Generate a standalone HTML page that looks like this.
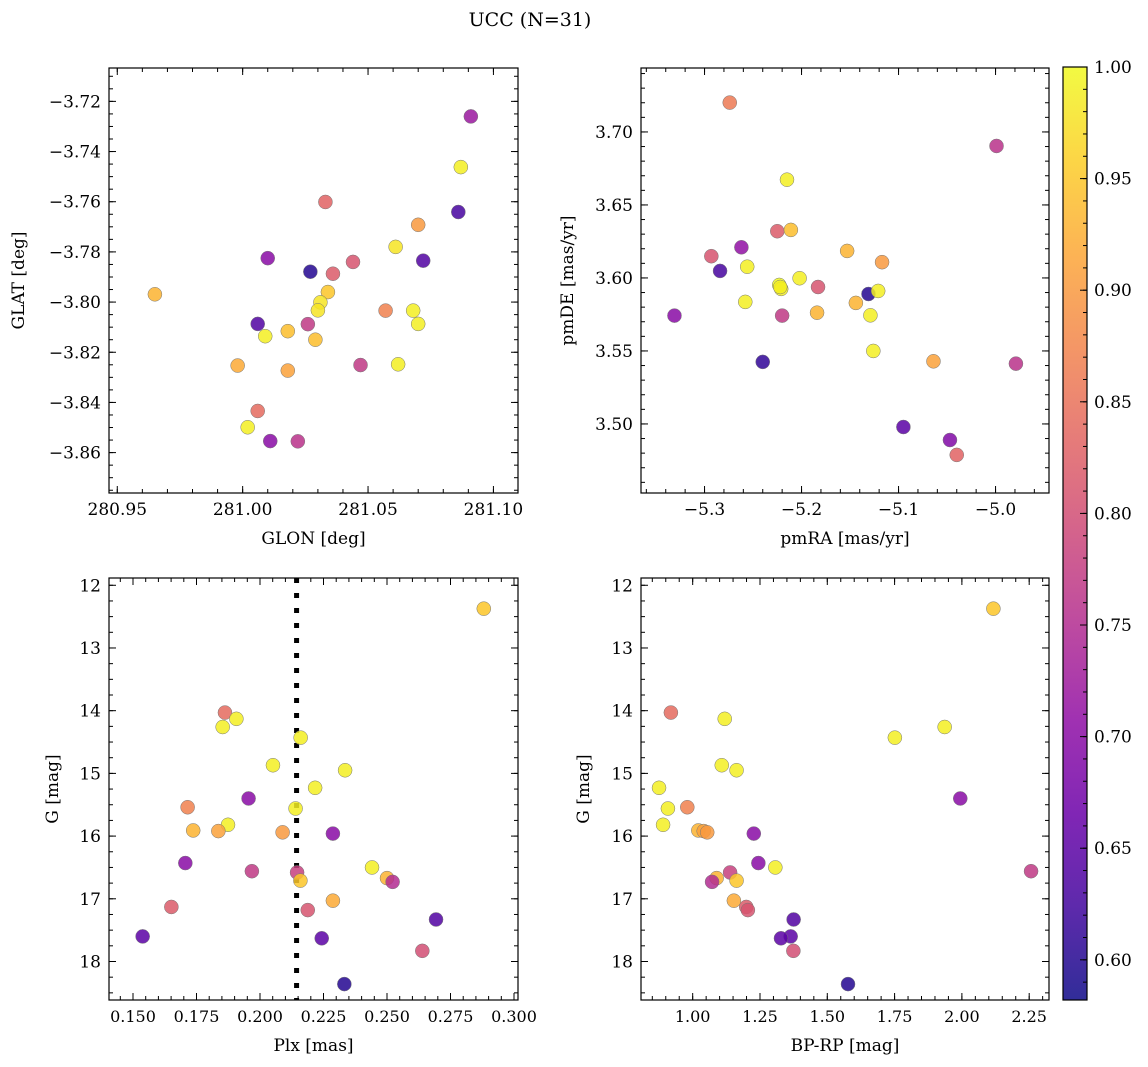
<!DOCTYPE html>
<html><head><meta charset="utf-8"><style>
body{margin:0;background:#fff;}
svg{display:block;font-family:"DejaVu Serif","Liberation Serif",serif;}
</style></head><body>
<svg id="fig" width="1148" height="1067" viewBox="0 0 1148 1067" xmlns="http://www.w3.org/2000/svg">
<defs><linearGradient id="cbg" x1="0" y1="1" x2="0" y2="0"></linearGradient></defs>
<text x="530" y="26" font-size="19" text-anchor="middle">UCC (N=31)</text>
</svg>
<script>
// Panel 1: GLON / GLAT
const glon = [281.091,281.087,281.033,281.086,281.070,281.061,281.010,281.072,281.027,281.044,281.036,280.965,281.034,281.031,281.030,281.057,281.068,281.070,281.006,281.026,281.018,281.009,281.029,280.998,281.018,281.047,281.062,281.006,281.002,281.011,281.022];
const glat = [-3.7260,-3.7462,-3.7601,-3.7641,-3.7692,-3.7780,-3.7825,-3.7835,-3.7879,-3.7840,-3.7887,-3.7969,-3.7960,-3.8001,-3.8033,-3.8034,-3.8034,-3.8087,-3.8087,-3.8088,-3.8116,-3.8136,-3.8150,-3.8253,-3.8273,-3.8251,-3.8248,-3.8434,-3.8499,-3.8554,-3.8555];
const probA = [0.72,0.99,0.83,0.63,0.90,0.98,0.70,0.64,0.60,0.81,0.82,0.93,0.95,0.98,0.98,0.87,0.99,0.99,0.64,0.77,0.94,0.99,0.94,0.92,0.91,0.77,0.99,0.84,0.99,0.70,0.76];
// Panel 2: pmRA / pmDE
const pmra = [-5.274,-4.999,-5.215,-5.225,-5.211,-5.262,-5.293,-5.153,-5.117,-5.284,-5.256,-5.202,-5.223,-5.221,-5.222,-5.183,-5.131,-5.121,-5.258,-5.144,-5.331,-5.220,-5.184,-5.129,-5.126,-5.240,-5.064,-4.979,-5.095,-5.047,-5.040];
const pmde = [3.7201,3.6904,3.6673,3.6320,3.6329,3.6210,3.6149,3.6185,3.6108,3.6048,3.6077,3.5998,3.5952,3.5925,3.5938,3.5938,3.5890,3.5911,3.5836,3.5829,3.5742,3.5742,3.5762,3.5744,3.5500,3.5425,3.5429,3.5413,3.4979,3.4890,3.4788];
const probB = [0.86,0.76,0.99,0.82,0.94,0.71,0.81,0.93,0.90,0.63,0.99,0.99,1.00,0.99,0.99,0.81,0.60,0.99,0.99,0.93,0.70,0.77,0.93,0.99,0.99,0.61,0.91,0.76,0.65,0.69,0.83];
// Panels 3 & 4: Plx, BP-RP vs G
const plx = [0.2881,0.1862,0.1907,0.1853,0.2160,0.2051,0.2335,0.2217,0.1955,0.1715,0.2140,0.1874,0.1737,0.1836,0.2089,0.2287,0.1706,0.1968,0.2146,0.2159,0.2441,0.2500,0.2522,0.1651,0.2188,0.2287,0.2693,0.1538,0.2243,0.2639,0.2332];
const bprp = [2.117,0.919,1.119,1.936,1.751,1.108,1.163,0.875,1.994,0.980,0.908,0.890,1.021,1.041,1.054,1.227,1.244,2.257,1.139,1.163,1.307,1.089,1.072,1.199,1.205,1.153,1.375,1.364,1.328,1.374,1.577];
const gmag = [12.373,14.03,14.13,14.26,14.43,14.87,14.95,15.23,15.40,15.54,15.56,15.82,15.91,15.92,15.94,15.96,16.43,16.56,16.58,16.71,16.50,16.67,16.73,17.13,17.18,17.03,17.33,17.60,17.63,17.83,18.36];
const probC = [0.95,0.84,0.99,0.99,0.99,0.99,0.99,0.99,0.70,0.87,0.99,0.99,0.93,0.91,0.90,0.70,0.70,0.77,0.78,0.95,0.99,0.93,0.75,0.82,0.81,0.92,0.64,0.65,0.65,0.80,0.60];
const plxRef = [0.2144];
const cbTicks = [0.60,0.65,0.70,0.75,0.80,0.85,0.90,0.95,1.00];

const NS='http://www.w3.org/2000/svg';
const svg=document.getElementById('fig');
function mk(tag,attrs,parent){const e=document.createElementNS(NS,tag);for(const k in attrs)e.setAttribute(k,attrs[k]);(parent||svg).appendChild(e);return e;}
const plasma=[[13,8,135],[65,4,157],[106,0,168],[143,13,164],[177,42,144],[204,71,120],[225,100,98],[242,132,75],[252,166,54],[252,206,37],[240,249,33]];
function cmap(t){t=Math.max(0,Math.min(1,t));const f=t*10,i=Math.min(9,Math.floor(f)),r=f-i;const a=plasma[i],b=plasma[i+1];return 'rgb('+a.map((v,k)=>Math.round(v+(b[k]-v)*r)).join(',')+')';}
const cmin=0.582,cmax=1.0;
function pc(p){return cmap((p-cmin)/(cmax-cmin));}

function panel(o){
  const g=mk('g',{});
  
  
  const sx=v=>o.x0+(v-o.xr[0])/(o.xr[1]-o.xr[0])*(o.x1-o.x0);
  const sy=v=>o.y1-(v-o.yr[0])/(o.yr[1]-o.yr[0])*(o.y1-o.y0);
  const tg=mk('g',{stroke:'#000','stroke-width':1},g);
  const eps=1e-9;
  function ticksX(step,len,labels){
    const s=Math.ceil((o.xr[0]-eps)/step),e=Math.floor((o.xr[1]+eps)/step);
    for(let i=s;i<=e;i++){const v=i*step,x=sx(v);
      mk('line',{x1:x,x2:x,y1:o.y1,y2:o.y1-len},tg);mk('line',{x1:x,x2:x,y1:o.y0,y2:o.y0+len},tg);
      if(labels){const t=mk('text',{x:x,y:o.y1+22,'font-size':o.fsx||17,'text-anchor':'middle',stroke:'none',fill:'#000'},g);
        t.textContent=o.fmtX(v);
        
        }}
  }
  function ticksY(step,len,labels){
    const s=Math.ceil((o.yr[0]-eps)/step),e=Math.floor((o.yr[1]+eps)/step);
    for(let i=s;i<=e;i++){const v=i*step,y=sy(v);
      mk('line',{x1:o.x0,x2:o.x0+len,y1:y,y2:y},tg);mk('line',{x1:o.x1,x2:o.x1-len,y1:y,y2:y},tg);
      if(labels){const t=mk('text',{x:o.x0-8,y:y+6,'font-size':17,'text-anchor':'end',stroke:'none',fill:'#000'},g);
        t.textContent=o.fmtY(v);
        
        }}
  }
  ticksX(o.xmin,4,false);ticksX(o.xmaj,7,true);
  ticksY(o.ymin,4,false);ticksY(o.ymaj,7,true);
  if(o.vline!==undefined){const l=mk('line',{x1:sx(o.vline),x2:sx(o.vline),y1:o.y0,y2:o.y1,stroke:'#000','stroke-width':5,'stroke-dasharray':'5 10'},g);
    
    }
  for(let i=0;i<o.xs.length;i++){
    const c=mk('circle',{cx:sx(o.xs[i]),cy:sy(o.ys[i]),r:7,fill:pc(o.ps[i]),'fill-opacity':0.85,stroke:'#777','stroke-width':0.5},g);
    
    
  }
  mk('rect',{x:o.x0,y:o.y0,width:o.x1-o.x0,height:o.y1-o.y0,fill:'none',stroke:'#000','stroke-width':1.2},g);
  const xl=mk('text',{x:(o.x0+o.x1)/2,y:o.y1+51,'font-size':17,'text-anchor':'middle'},g);
  xl.textContent=o.xlab;
  
  
  const yl=mk('text',{x:o.ylx,y:(o.y0+o.y1)/2,'font-size':17,'text-anchor':'middle',transform:'rotate(-90 '+o.ylx+' '+((o.y0+o.y1)/2)+')'},g);
  yl.textContent=o.ylab;
  
  
}
const m='\u2212';
panel({name:'glon-glat-panel',x0:109,x1:518,y0:68,y1:493,xr:[280.9467,281.1098],yr:[-3.8761,-3.7067],xs:glon,ys:glat,ps:probA,
  xmaj:0.05,xmin:0.01,ymaj:0.02,ymin:0.005,fmtX:v=>v.toFixed(2),fmtY:v=>m+Math.abs(v).toFixed(2),xlab:'GLON [deg]',ylab:'GLAT [deg]',ylx:24});
panel({name:'proper-motion-panel',x0:641,x1:1049,y0:68,y1:493,xr:[-5.3655,-4.9449],yr:[3.4527,3.7438],xs:pmra,ys:pmde,ps:probB,
  xmaj:0.1,xmin:0.02,ymaj:0.05,ymin:0.01,fmtX:v=>m+Math.abs(v).toFixed(1),fmtY:v=>v.toFixed(2),xlab:'pmRA [mas/yr]',ylab:'pmDE [mas/yr]',ylx:573});
panel({name:'plx-g-panel',x0:109,x1:518,y0:578,y1:1000,xr:[0.14055,0.30157],yr:[-18.614,-11.884],xs:plx,ys:gmag.map(v=>-v),ps:probC,
  xmaj:0.025,xmin:0.005,ymaj:1,ymin:0.25,fsx:16,fmtX:v=>v.toFixed(3),fmtY:v=>String(Math.round(-v)),xlab:'Plx [mas]',ylab:'G [mag]',ylx:58,vline:plxRef[0]});
panel({name:'color-magnitude-panel',x0:641,x1:1049,y0:578,y1:1000,xr:[0.808,2.3236],yr:[-18.614,-11.884],xs:bprp,ys:gmag.map(v=>-v),ps:probC,
  xmaj:0.25,xmin:0.05,ymaj:1,ymin:0.25,fsx:16,fmtX:v=>v.toFixed(2),fmtY:v=>String(Math.round(-v)),xlab:'BP-RP [mag]',ylab:'G [mag]',ylx:589});
const grad=document.getElementById('cbg');
for(let i=0;i<=20;i++){mk('stop',{offset:(i/20),'stop-color':cmap(i/20),'stop-opacity':0.85},grad);}
const cb=mk('g',{});


const cy0=67,cy1=1000,cx0=1063,cx1=1087;
mk('rect',{x:cx0,y:cy0,width:cx1-cx0,height:cy1-cy0,fill:'url(#cbg)'},cb);
const cys=v=>cy1-(v-cmin)/(cmax-cmin)*(cy1-cy0);
for(let v=0.59;v<=1.0001;v+=0.01){const y=cys(v);mk('line',{x1:cx1,x2:cx1-4,y1:y,y2:y,stroke:'#000','stroke-width':1},cb);}
cbTicks.forEach(v=>{const y=cys(v);mk('line',{x1:cx1,x2:cx1-7,y1:y,y2:y,stroke:'#000','stroke-width':1},cb);
  const t=mk('text',{x:cx1+7,y:y+6,'font-size':17},cb);t.textContent=v.toFixed(2);
  
  });
mk('rect',{x:cx0,y:cy0,width:cx1-cx0,height:cy1-cy0,fill:'none',stroke:'#000','stroke-width':1.2},cb);
</script>
</body></html>
